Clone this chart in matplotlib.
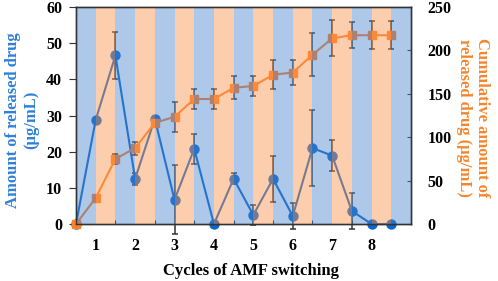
import matplotlib
matplotlib.use("Agg")
import matplotlib.pyplot as plt
import numpy as np

# font (Times-like bold everywhere)
plt.rcParams["font.family"] = ["Liberation Serif", "DejaVu Serif"]
plt.rcParams["font.weight"] = "bold"

# data: one point at each AMF on/off boundary
steps = list(range(17))
released = [0, 28.8, 46.6, 12.5, 29.1, 6.7, 20.8, 0, 12.5, 2.5, 12.5, 2.2, 21.0, 18.9, 3.6, 0, 0]
releasedErr = [0, 0.5, 6.5, 1.7, 0.8, 9.5, 4.2, 0, 1.5, 2.7, 6.3, 3.5, 10.5, 4.2, 5.1, 0, 0]
cumulative = [0, 30, 75, 87.5, 116.5, 123.5, 144, 144, 157, 159, 172, 174.5, 195, 214, 217.5, 217.5, 217.5]
cumulativeErr = [0, 0, 6, 7.5, 3, 17, 12, 12, 13, 12, 17, 14, 25, 21, 15, 16, 16]
cycleLabels = ["1", "2", "3", "4", "5", "6", "7", "8"]
leftTicks = [0, 10, 20, 30, 40, 50, 60]
rightTicks = [0, 50, 100, 150, 200, 250]

BLUE_LINE = "#0a66cc"
ORANGE_LINE = "#ff7f27"
BAND_BLUE = "#4b85cc"
BAND_ORANGE = "#fb944b"
BAND_ALPHA = 0.45
ERR_COLOR = "#333333"

fig = plt.figure(figsize=(4.98, 2.81), dpi=100)
ax = fig.add_axes([0.1526, 0.2028, 0.6727, 0.7722])
ax2 = ax.twinx()

# released amount (left axis)
ax.errorbar(steps, released, yerr=releasedErr, fmt="-o", color=BLUE_LINE,
            lw=1.5, ms=6.5, ecolor=ERR_COLOR, elinewidth=1.1, capsize=2,
            capthick=1.1, clip_on=False)
# cumulative amount (right axis)
ax2.errorbar(steps, cumulative, yerr=cumulativeErr, fmt="-s", color=ORANGE_LINE,
             lw=1.5, ms=6, ecolor=ERR_COLOR, elinewidth=1.1, capsize=2,
             capthick=1.1, clip_on=False)

# translucent on/off bands drawn over everything
for i in range(len(steps)):
    c = BAND_BLUE if i % 2 == 0 else BAND_ORANGE
    ax2.axvspan(i, i + 1, color=c, alpha=BAND_ALPHA, lw=0, zorder=5)

ax.set_xlim(0, 17)
ax.set_ylim(0, 60)
ax2.set_ylim(0, 250)

# x ticks: marks at even boundaries, cycle numbers between them
ax.set_xticks(range(2, 17, 2))
ax.set_xticklabels([])
ax.set_xticks(range(1, 16, 2), minor=True)
ax.set_xticklabels(cycleLabels, minor=True)
ax.tick_params(axis="x", which="major", direction="in", length=3, color="#333333")
ax.tick_params(axis="x", which="minor", length=0, pad=10, labelsize=11.5)

ax.set_yticks(leftTicks)
ax.tick_params(axis="y", direction="out", length=5, pad=5, labelsize=11.5, color="#333333")
ax2.set_yticks(rightTicks)
ax2.tick_params(axis="y", direction="in", length=3, pad=12, labelsize=11.5, color="#333333")

for a in (ax, ax2):
    for s in a.spines.values():
        s.set_color("#333333")
        s.set_linewidth(1.0)
        s.set_zorder(10)

ax.set_xlabel("Cycles of AMF switching", fontsize=12, fontweight="bold")
ax.xaxis.set_label_coords(0.523, -0.18)
ax.set_ylabel("Amount of released drug\n(μg/mL)", fontsize=12, fontweight="bold",
              color="#2f80d8", va="center")
ax.yaxis.set_label_coords(-0.16, 0.48)
ax2.set_ylabel("Cumulative amount of\nreleased drug (μg/mL)", fontsize=12,
               fontweight="bold", color="#f5862e", rotation=270, va="center")
ax2.yaxis.set_label_coords(1.185, 0.49)

fig.savefig("out.png", dpi=100)
